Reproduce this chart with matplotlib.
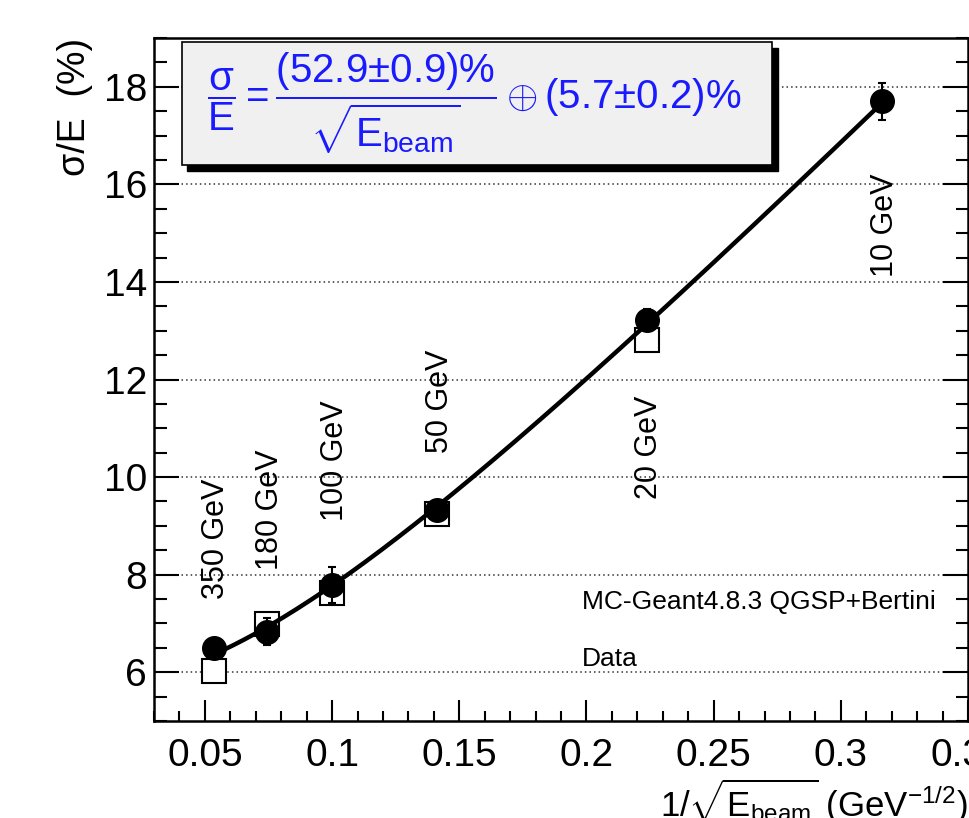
import matplotlib.pyplot as plt
import numpy as np
from matplotlib.patches import Rectangle
from matplotlib.ticker import MultipleLocator

plt.rcParams['font.family'] = ['Liberation Sans', 'DejaVu Sans']
plt.rcParams['mathtext.fontset'] = 'custom'
plt.rcParams['mathtext.rm'] = 'Liberation Sans'
plt.rcParams['mathtext.it'] = 'Liberation Sans'
plt.rcParams['mathtext.bf'] = 'Liberation Sans:bold'

# beam energies (GeV) and x = 1/sqrt(E)
energies = [350, 180, 100, 50, 20, 10]
energy_labels = ['350 GeV', '180 GeV', '100 GeV', '50 GeV', '20 GeV', '10 GeV']
x_vals = [1 / np.sqrt(e) for e in energies]

# filled circles with error bars
circle_res = [6.49, 6.83, 7.78, 9.32, 13.23, 17.70]
circle_err = [0.10, 0.28, 0.37, 0.12, 0.22, 0.38]

# open squares (first five energies)
square_x = x_vals[:5]
square_res = [6.03, 6.98, 7.62, 9.24, 12.80]

# fit parameters from the box: stochastic and constant terms (%)
fit_a = 52.9
fit_c = 5.7

# y positions (bottom) of the rotated energy labels
label_y = [7.5, 8.1, 9.1, 10.5, 9.55, 14.1]

fig = plt.figure(figsize=(9.7, 8.18), dpi=100)
ax = fig.add_axes([0.1588, 0.1186, 0.8392, 0.8349])

xf = np.linspace(min(x_vals), max(x_vals), 200)
ax.plot(xf, np.sqrt((fit_a * xf) ** 2 + fit_c ** 2), color='black', lw=3.2, zorder=3)

ax.plot(square_x, square_res, 's', ms=17.5, mfc='white', mec='black', mew=1.5, zorder=2)
ax.errorbar(x_vals, circle_res, yerr=circle_err, fmt='o', ms=17, color='black',
            ecolor='black', elinewidth=1.5, capsize=3, capthick=1.5, zorder=4)

for x, y, lab in zip(x_vals, label_y, energy_labels):
    ax.text(x + 0.001, y, lab, rotation=90, ha='center', va='bottom', fontsize=22)

ax.text(0.1982, 7.43, 'MC-Geant4.8.3 QGSP+Bertini', fontsize=19, va='center')
ax.text(0.1982, 6.27, 'Data', fontsize=19, va='center')

ax.set_xlim(0.03, 0.35)
ax.set_ylim(5, 19)
ax.xaxis.set_minor_locator(MultipleLocator(0.01))
ax.yaxis.set_major_locator(MultipleLocator(2))
ax.yaxis.set_minor_locator(MultipleLocator(0.5))
ax.set_xticks([0.05, 0.1, 0.15, 0.2, 0.25, 0.3, 0.35])
ax.set_xticklabels(['0.05', '0.1', '0.15', '0.2', '0.25', '0.3', '0.35'])

ax.tick_params(axis='both', which='both', direction='in', labelsize=28, width=1.5)
ax.tick_params(axis='x', which='major', length=15, pad=12)
ax.tick_params(axis='x', which='minor', length=7)
ax.tick_params(axis='y', which='major', length=18, right=True, pad=5)
ax.tick_params(axis='y', which='minor', length=9, right=True)
for s in ax.spines.values():
    s.set_linewidth(1.8)

ax.grid(axis='y', which='major', linestyle=(0, (1, 2)), color='0.2', lw=1.1)
ax.set_axisbelow(True)

ax.set_ylabel('σ/E  (%)', fontsize=27, loc='top', labelpad=8)
ax.set_xlabel(r'1/$\sqrt{E_{\mathrm{beam}}}$ (GeV$^{-1/2}$)', fontsize=25,
              loc='right', labelpad=2)

# fit result box with shadow
ax.add_patch(Rectangle((0.041, 0.805), 0.725, 0.18, transform=ax.transAxes,
                       facecolor='black', edgecolor='black', zorder=5, clip_on=False))
ax.add_patch(Rectangle((0.034, 0.814), 0.725, 0.18, transform=ax.transAxes,
                       facecolor='#f0f0f0', edgecolor='black', lw=1.2, zorder=6,
                       clip_on=False))
ax.text(0.3935, 0.904,
        r'$\dfrac{\sigma}{E} = \dfrac{(52.9{\pm}0.9)\%}{\sqrt{E_{\mathrm{beam}}}} \oplus (5.7{\pm}0.2)\%$',
        transform=ax.transAxes, ha='center', va='center', fontsize=29,
        color='#1a1aff', zorder=7)

fig.savefig('out.png', dpi=100)
